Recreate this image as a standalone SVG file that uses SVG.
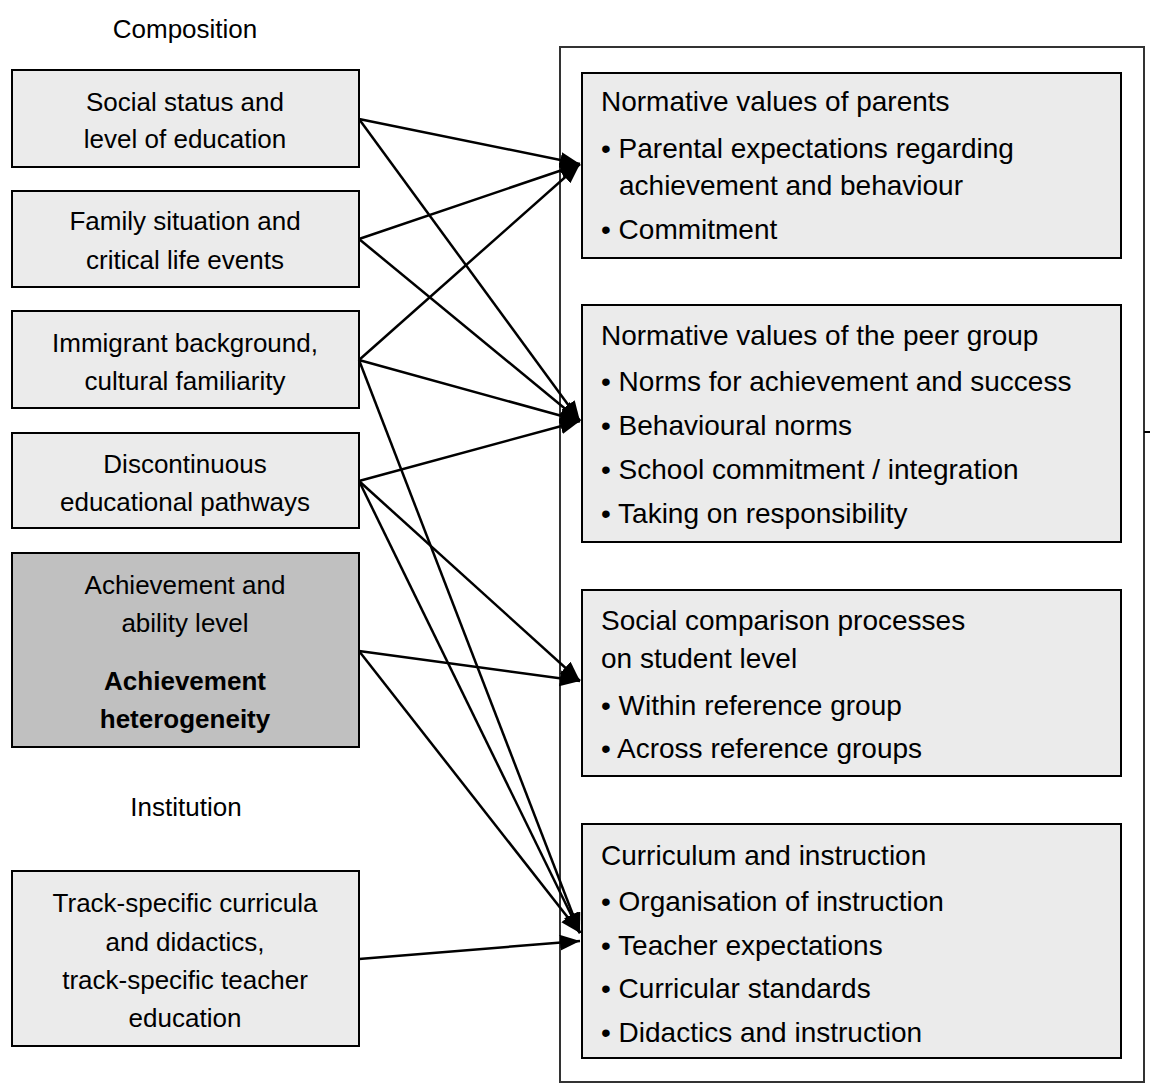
<svg xmlns="http://www.w3.org/2000/svg" width="1150" height="1089" viewBox="0 0 1150 1089">
<style>
text{font-family:"Liberation Sans",Arial,sans-serif;font-size:26px;fill:#000}
.r text{font-size:28px}
.c{text-anchor:middle}
.b{font-weight:bold}
.box{fill:#ebebeb;stroke:#000;stroke-width:2}
.dark{fill:#c0c0c0;stroke:#000;stroke-width:2}
.conn line{stroke:#000;stroke-width:2.5;marker-end:url(#ah)}
</style>
<defs>
<marker id="ah" markerUnits="userSpaceOnUse" markerWidth="22" markerHeight="18" refX="20" refY="8" orient="auto">
<path d="M0,0 L20,8 L0,16 z" fill="#000"/>
</marker>
</defs>
<rect width="1150" height="1089" fill="#fff"/>
<text class="c" x="185" y="38">Composition</text>
<text class="c" x="186" y="816">Institution</text>
<rect x="560" y="47" width="584" height="1035" fill="none" stroke="#333" stroke-width="2"/>
<line x1="1144" y1="432" x2="1150" y2="432" stroke="#000" stroke-width="2"/>
<g id="n-social">
<rect class="box" x="12" y="70" width="347" height="97"/>
<text class="c" x="185" y="111">Social status and</text>
<text class="c" x="185" y="148">level of education</text>
</g>
<g id="n-family">
<rect class="box" x="12" y="191" width="347" height="96"/>
<text class="c" x="185" y="230">Family situation and</text>
<text class="c" x="185" y="269">critical life events</text>
</g>
<g id="n-immigrant">
<rect class="box" x="12" y="311" width="347" height="97"/>
<text class="c" x="185" y="352">Immigrant background,</text>
<text class="c" x="185" y="390">cultural familiarity</text>
</g>
<g id="n-discont">
<rect class="box" x="12" y="433" width="347" height="95"/>
<text class="c" x="185" y="473">Discontinuous</text>
<text class="c" x="185" y="511">educational pathways</text>
</g>
<g id="n-achievement">
<rect class="dark" x="12" y="553" width="347" height="194"/>
<text class="c" x="185" y="594">Achievement and</text>
<text class="c" x="185" y="632">ability level</text>
<text class="c b" x="185" y="690">Achievement</text>
<text class="c b" x="185" y="728">heterogeneity</text>
</g>
<g id="n-track">
<rect class="box" x="12" y="871" width="347" height="175"/>
<text class="c" x="185" y="912">Track-specific curricula</text>
<text class="c" x="185" y="951">and didactics,</text>
<text class="c" x="185" y="989">track-specific teacher</text>
<text class="c" x="185" y="1027">education</text>
</g>
<g id="n-parents" class="r">
<rect class="box" x="582" y="73" width="539" height="185"/>
<text x="601" y="111">Normative values of parents</text>
<text x="601" y="158">• Parental expectations regarding</text>
<text x="619" y="195">achievement and behaviour</text>
<text x="601" y="239">• Commitment</text>
</g>
<g id="n-peer" class="r">
<rect class="box" x="582" y="305" width="539" height="237"/>
<text x="601" y="345">Normative values of the peer group</text>
<text x="601" y="391">• Norms for achievement and success</text>
<text x="601" y="435">• Behavioural norms</text>
<text x="601" y="479">• School commitment / integration</text>
<text x="601" y="523">• Taking on responsibility</text>
</g>
<g id="n-comparison" class="r">
<rect class="box" x="582" y="590" width="539" height="186"/>
<text x="601" y="630">Social comparison processes</text>
<text x="601" y="668">on student level</text>
<text x="601" y="715">• Within reference group</text>
<text x="601" y="758">• Across reference groups</text>
</g>
<g id="n-curriculum" class="r">
<rect class="box" x="582" y="824" width="539" height="234"/>
<text x="601" y="865">Curriculum and instruction</text>
<text x="601" y="911">• Organisation of instruction</text>
<text x="601" y="955">• Teacher expectations</text>
<text x="601" y="998">• Curricular standards</text>
<text x="601" y="1042">• Didactics and instruction</text>
</g>
<g class="conn" id="connectors">
<line x1="359" y1="119" x2="580" y2="164"/>
<line x1="359" y1="119" x2="580" y2="421"/>
<line x1="359" y1="239" x2="580" y2="164"/>
<line x1="359" y1="239" x2="580" y2="421"/>
<line x1="359" y1="360" x2="580" y2="164"/>
<line x1="359" y1="360" x2="580" y2="421"/>
<line x1="359" y1="360" x2="580" y2="933"/>
<line x1="359" y1="481" x2="580" y2="421"/>
<line x1="359" y1="481" x2="580" y2="681"/>
<line x1="359" y1="481" x2="580" y2="933"/>
<line x1="359" y1="651" x2="580" y2="681"/>
<line x1="359" y1="651" x2="580" y2="933"/>
<line x1="359" y1="959" x2="580" y2="941"/>
</g>
</svg>
